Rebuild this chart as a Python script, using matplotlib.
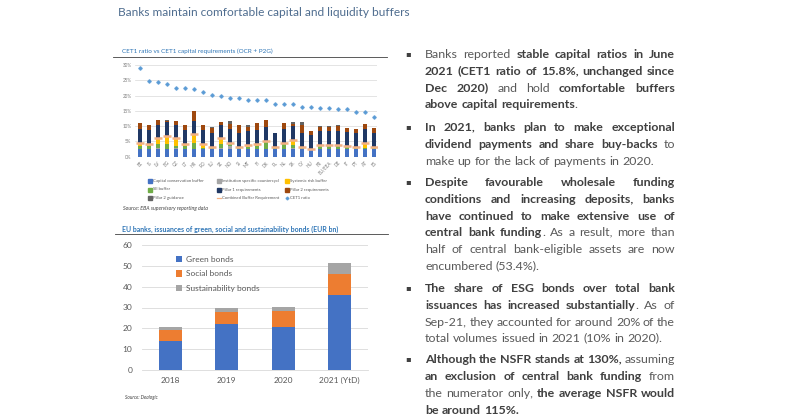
import math
import matplotlib
matplotlib.use("Agg")
import matplotlib.pyplot as plt
import numpy as np
from matplotlib.lines import Line2D
from matplotlib.font_manager import FontProperties

plt.rcParams["font.family"] = ["Lato", "DejaVu Sans"]

W, H = 800, 418

# ---- top chart: CET1 ratio vs CET1 capital requirements, by country (%)
countries = ["EE", "IS", "LV", "BG", "CZ", "LT", "HR", "RO", "LU", "SE", "NO", "SI", "MT", "FI",
             "DK", "PL", "NL", "SK", "CY", "HU", "FR", "EU/EEA", "DE", "IT", "PT", "AT", "ES"]
cet1_ratio = [28.9, 24.9, 24.3, 23.7, 22.6, 22.6, 22.0, 21.3, 20.2, 20.0, 19.3, 19.1, 18.6, 18.6,
              18.6, 17.4, 17.1, 17.1, 16.4, 16.4, 15.9, 15.8, 15.5, 15.5, 14.7, 14.7, 13.1]
capital_conservation = [2.5] * 27
countercyclical = [0, 0, 0.5, 0, 0.5, 0, 0, 0, 0, 0.5, 1.0, 0, 0, 0,
                   0, 0, 0, 0.3, 0, 0, 0, 0.1, 0, 0, 0, 0, 0]
sii_buffer = [1.0, 1.0, 1.0, 1.5, 0.5, 1.0, 2.0, 0.5, 0.5, 1.0, 0.9, 0.5, 0.8, 1.0,
              2.7, 0.5, 1.5, 1.0, 0.5, 0.1, 1.0, 0.8, 1.0, 0.8, 0.5, 0.5, 0.5]
systemic_risk = [1.1, 0.6, 2.0, 2.8, 2.5, 0.6, 2.8, 1.1, 0.3, 2.0, 0.0, 0.3, 0.5, 0.6,
                 0.0, 0.3, 0.6, 1.7, 0.3, 0.0, 0.3, 0.4, 0.3, 0.2, 0.3, 1.4, 0.3]
pillar1 = [4.5] * 27
pillar2_req = [1.9, 1.9, 1.5, 0.4, 1.3, 1.9, 3.0, 1.9, 1.5, 1.0, 1.9, 2.5, 1.5, 2.4,
               2.3, 0.0, 1.9, 0.7, 2.7, 1.4, 1.4, 1.5, 1.7, 1.5, 1.4, 1.9, 1.7]
pillar2_guid = [0, 0, 0, 0.3, 0, 0, 0, 0, 0.5, 0, 1.0, 0, 0.5, 0,
                0, 0, 0, 0.8, 1.0, 0, 0.3, 0.4, 0.3, 0, 0, 0, 0]
combined_buffer = [4.6, 4.1, 6.0, 6.8, 6.0, 4.1, 7.3, 4.1, 3.3, 6.0, 4.4, 3.3, 3.8, 4.1,
                   5.2, 3.3, 4.6, 5.5, 3.3, 2.6, 3.8, 3.8, 3.8, 3.5, 3.3, 4.4, 3.3]

# ---- bottom chart: ESG bond issuance (EUR bn)
years = ["2018", "2019", "2020", "2021 (YtD)"]
green_bonds = [13.8, 22.1, 20.8, 36.0]
social_bonds = [5.4, 5.9, 7.7, 10.2]
sustainability_bonds = [1.3, 1.8, 1.9, 5.2]

# ---- bullet text: each line is a list of (text, bold)
bullets = [
    [[("Banks reported ", False), ("stable capital ratios in June", True)],
     [("2021 (CET1 ratio of 15.8%, unchanged since", True)],
     [("Dec 2020)", True), (" and hold ", False), ("comfortable buffers", True)],
     [("above capital requirements", True), (".", False)]],
    [[("In 2021, banks plan to make exceptional", True)],
     [("dividend payments and share buy-backs", True), (" to", False)],
     [("make up for the lack of payments in 2020.", False)]],
    [[("Despite favourable wholesale funding", True)],
     [("conditions and increasing deposits, banks", True)],
     [("have continued to make extensive use of", True)],
     [("central bank funding", True), (". As a result, more than", False)],
     [("half of central bank-eligible assets are now", False)],
     [("encumbered (53.4%).", False)]],
    [[("The share of ESG bonds over total bank", True)],
     [("issuances has increased substantially", True), (". As of", False)],
     [("Sep-21, they accounted for around 20% of the", False)],
     [("total volumes issued in 2021 (10% in 2020).", False)]],
    [[("Although the NSFR stands at 130%,", True), (" assuming", False)],
     [("an exclusion of central bank funding", True), (" from", False)],
     [("the numerator only, ", False), ("the average NSFR would", True)],
     [("be around 115%.", True)]],
]
bullet_y = [54, 127, 182, 288, 359]


def fx(x):
    return x / W


def fy(y):
    return 1 - y / H


fig = plt.figure(figsize=(8, 4.18), dpi=100)
fig.patch.set_facecolor("white")

fig.text(fx(118), fy(13), "Banks maintain comfortable capital and liquidity buffers",
         fontsize=8.6, color="#4F6D8F", va="center", ha="left", family="Lato")

# ---------------- top chart
fig.text(fx(122), fy(51), "CET1 ratio vs CET1 capital requirements (OCR + P2G)",
         fontsize=4.6, color="#2E75B6", va="center")
fig.add_artist(Line2D([fx(113), fx(387)], [fy(57), fy(57)], color="#404040", lw=0.6,
                      transform=fig.transFigure))

ax1 = fig.add_axes([fx(135), fy(156.7), fx(242), 91.7 / H])
x = np.arange(len(countries))
series = [
    (capital_conservation, "#4472C4"),
    (countercyclical, "#A5A5A5"),
    (sii_buffer, "#70AD47"),
    (systemic_risk, "#FFC000"),
    (pillar1, "#203864"),
    (pillar2_req, "#9E480E"),
    (pillar2_guid, "#636363"),
]
bottom = np.zeros(len(countries))
for vals, col in series:
    ax1.bar(x, vals, 0.48, bottom=bottom, color=col, zorder=2)
    bottom += np.array(vals)
ax1.plot(x, combined_buffer, ls="none", marker="_", ms=6, mew=1.8, color="#F4B183", zorder=3)
ax1.plot(x, cet1_ratio, ls="none", marker=(4, 1, 0), ms=2.6, color="#5B9BD5", zorder=3)
ax1.set_ylim(0, 30)
ax1.set_xlim(-0.56, 26.33)
ax1.set_yticks(range(0, 31, 5))
ax1.set_yticklabels([f"{v}%" for v in range(0, 31, 5)])
ax1.set_xticks(x)
ax1.set_xticklabels(countries, rotation=45, ha="right", rotation_mode="anchor")
ax1.tick_params(axis="both", length=0, labelsize=3.3, colors="#7F7F7F", pad=2.5)
ax1.grid(axis="y", color="#D9D9D9", lw=0.5, zorder=0)
for s in ax1.spines.values():
    s.set_visible(False)

# legend of the top chart, 3 columns
legend_items = [
    ("Capital conservation buffer", "s", "#4472C4"),
    ("Institution specific countercycl", "s", "#A5A5A5"),
    ("Systemic risk buffer", "s", "#FFC000"),
    ("SII buffer", "s", "#70AD47"),
    ("Pillar 1 requirements", "s", "#203864"),
    ("Pillar 2 requirements", "s", "#9E480E"),
    ("Pillar 2 guidance", "s", "#636363"),
    ("Combined Buffer Requirement", "line", "#F4B183"),
    ("CET1 ratio", (4, 1, 0), "#5B9BD5"),
]
col_x = [150, 219, 287]
row_y = [181, 189.5, 198]
for i, (lab, mk, col) in enumerate(legend_items):
    lx, ly = col_x[i % 3], row_y[i // 3]
    if mk == "line":
        fig.add_artist(Line2D([fx(lx - 2), fx(lx + 2)], [fy(ly), fy(ly)], color=col, lw=0.9,
                              transform=fig.transFigure))
    else:
        fig.add_artist(Line2D([fx(lx)], [fy(ly)], marker=mk, ms=2.2, color=col, ls="none",
                              transform=fig.transFigure))
    fig.text(fx(lx + 3), fy(ly), lab, fontsize=3.1, color="#595959", va="center")

fig.text(fx(123), fy(208), "Source: EBA supervisory reporting data", fontsize=3.8,
         style="italic", color="#404040", va="center")

# ---------------- bottom chart
fig.text(fx(122), fy(229), "EU banks, issuances of green, social and sustainability bonds (EUR bn)",
         fontsize=5.0, color="#2E75B6", va="center", weight="bold")
fig.add_artist(Line2D([fx(115), fx(388)], [fy(234), fy(234)], color="#404040", lw=0.6,
                      transform=fig.transFigure))

ax2 = fig.add_axes([fx(142), fy(370), fx(226), 125 / H])
xb = np.arange(len(years))
ax2.bar(xb, green_bonds, 0.41, color="#4472C4", label="Green bonds", zorder=2)
ax2.bar(xb, social_bonds, 0.41, bottom=green_bonds, color="#ED7D31",
        label="Social bonds", zorder=2)
ax2.bar(xb, sustainability_bonds, 0.41,
        bottom=np.array(green_bonds) + np.array(social_bonds),
        color="#A5A5A5", label="Sustainability bonds", zorder=2)
ax2.set_ylim(0, 60)
ax2.set_xlim(-0.5, 3.5)
ax2.set_yticks(range(0, 61, 10))
ax2.set_xticks(xb)
ax2.set_xticklabels(years)
ax2.tick_params(axis="both", length=0, labelsize=6.0, colors="#595959")
ax2.tick_params(axis="y", pad=7)
ax2.tick_params(axis="x", pad=5)
ax2.grid(axis="y", color="#D9D9D9", lw=0.6, zorder=0)
for s in ["top", "right", "left"]:
    ax2.spines[s].set_visible(False)
ax2.spines["bottom"].set_color("#D9D9D9")
ax2.spines["bottom"].set_linewidth(0.6)
ax2.legend(loc="upper left", bbox_to_anchor=(fx(176), fy(255.5)), bbox_transform=fig.transFigure,
           frameon=False, fontsize=6.0, handlelength=0.75, handleheight=0.75,
           handletextpad=0.45, labelspacing=0.95, borderpad=0, borderaxespad=0,
           labelcolor="#595959")

fig.text(fx(125), fy(397), "Source: Dealogic", fontsize=3.4, style="italic",
         color="#404040", va="center")

# ---------------- justified bullet text on the right
renderer = fig.canvas.get_renderer()
tx0, tx1 = 425, 675
line_step = 16.9
body_size = 8.9


def text_width(s, bold):
    t = fig.text(0, 0, s, fontsize=body_size, family="Lato",
                 weight="bold" if bold else "normal")
    w = t.get_window_extent(renderer).width
    t.remove()
    return w


def baseline_nudge(s, bold):
    # agg rounds the glyph descent, words ending in , or ) can drop a pixel
    try:
        from matplotlib.backends.backend_agg import get_hinting_flag
        prop = FontProperties(family="Lato", weight="bold" if bold else "normal", size=body_size)
        font = renderer._prepare_font(prop)
        font.set_text(s, 0, flags=get_hinting_flag())
        d = font.get_descent() / 64.0
        return round(d) - math.floor(d)
    except Exception:
        return 0


space_w = text_width("a a", False) - text_width("aa", False)


def draw_line(y, pieces, justify):
    words = []
    for txt, bold in pieces:
        parts = txt.split(" ")
        for i, p in enumerate(parts):
            if i > 0 or not words:
                words.append([])
            if p:
                words[-1].append((p, bold))
    words = [w for w in words if w]
    widths = [[text_width(p, b) for p, b in w] for w in words]
    total = sum(sum(w) for w in widths)
    gap = (tx1 - tx0 - total) / (len(words) - 1) if justify and len(words) > 1 else space_w
    xpos = tx0
    base = round(y + 3.8)
    for w, ws in zip(words, widths):
        for (p, b), pw in zip(w, ws):
            fig.text(fx(xpos), fy(base - baseline_nudge(p, b)), p, fontsize=body_size,
                     va="baseline", family="Lato", weight="bold" if b else "normal",
                     color="#404040" if b else "#595959")
            xpos += pw
        xpos += gap


for by, lines in zip(bullet_y, bullets):
    fig.text(fx(408), fy(by), "\u25aa", fontsize=6, color="#404040", va="center", ha="center",
             family=["DejaVu Sans"])
    for k, pieces in enumerate(lines):
        draw_line(by + k * line_step, pieces, k < len(lines) - 1)

fig.savefig("out.png", dpi=100)
